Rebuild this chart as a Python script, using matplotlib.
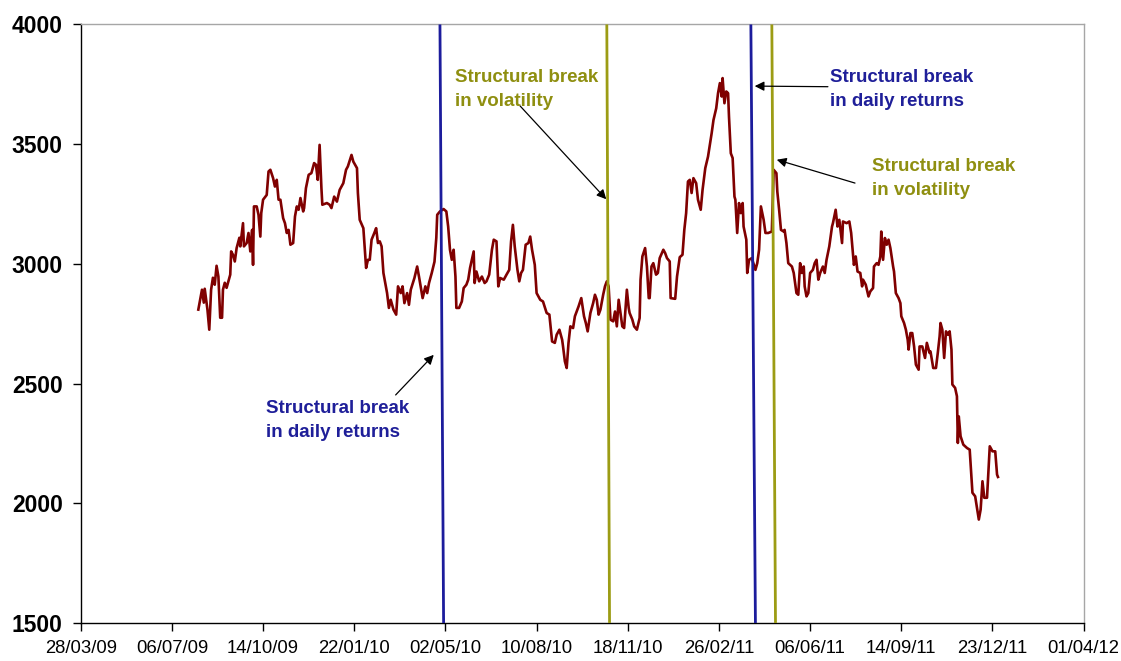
import matplotlib
matplotlib.use("Agg")
import matplotlib.pyplot as plt
import matplotlib.dates as mdates
import pandas as pd

# Index level, sampled through the period (days elapsed since 28 Mar 2009)
start_date = "2009-03-28"
days_from_start = [
    129, 133, 135, 136, 139, 141, 143, 145, 147, 149, 151, 153, 155, 156, 158, 160, 164, 165, 167, 169,
    171, 174, 175, 178, 179, 182, 184, 186, 188, 189, 190, 193, 195, 197, 198, 200, 204, 206, 208, 211,
    213, 215, 217, 219, 222, 224, 226, 228, 230, 233, 235, 237, 239, 241, 244, 245, 247, 250, 253, 256,
    258, 260, 262, 264, 265, 270, 273, 275, 278, 281, 284, 288, 291, 293, 297, 299, 303, 304, 306, 310,
    313, 315, 317, 319, 322, 324, 326, 328, 330, 332, 336, 338, 340, 343, 346, 348, 351, 353, 355, 358,
    360, 362, 366, 369, 371, 375, 378, 380, 382, 385, 388, 390, 391, 394, 398, 401, 403, 405, 407, 409,
    411, 412, 415, 418, 420, 423, 425, 427, 431, 432, 434, 437, 440, 443, 445, 448, 451, 453, 456, 458,
    460, 464, 467, 470, 472, 474, 476, 479, 481, 483, 485, 488, 491, 493, 495, 498, 500, 504, 507, 511,
    514, 517, 520, 522, 525, 528, 529, 531, 533, 535, 537, 540, 542, 546, 549, 552, 554, 556, 559, 562,
    564, 566, 568, 570, 573, 575, 577, 579, 581, 584, 586, 588, 590, 592, 594, 596, 599, 601, 602, 605,
    607, 610, 613, 614, 616, 619, 621, 623, 624, 626, 628, 631, 633, 635, 639, 641, 643, 646, 647, 652,
    654, 657, 660, 662, 664, 666, 668, 670, 672, 675, 677, 680, 682, 685, 688, 692, 694, 697, 699, 701,
    703, 704, 706, 708, 710, 711, 713, 715, 717, 718, 720, 722, 724, 726, 727, 730, 731, 733, 736, 740,
    742, 744, 746, 749, 751, 754, 758, 760, 763, 764, 766, 768, 771, 772, 774, 776, 780, 782, 785, 787,
    789, 791, 793, 794, 796, 798, 800, 803, 805, 807, 809, 811, 814, 816, 818, 821, 824, 825, 828, 830,
    832, 835, 836, 840, 843, 845, 847, 848, 850, 852, 855, 857, 858, 861, 864, 866, 869, 870, 873, 875,
    877, 878, 880, 882, 884, 886, 888, 891, 892, 894, 897, 899, 900, 903, 905, 907, 908, 910, 912, 914,
    916, 919, 920, 923, 926, 928, 931, 932, 935, 938, 940, 942, 943, 945, 947, 949, 951, 953, 955, 956,
    959, 961, 962, 963, 965, 968, 972, 975, 976, 978, 981, 983, 985, 987, 989, 991, 994, 995, 997, 1000,
    1003, 1005, 1006,
]
index_level = [
    2809, 2892, 2838, 2896, 2809, 2725, 2892, 2942, 2913, 2992, 2947, 2775, 2775, 2892, 2921, 2900, 2955, 3052, 3038, 3010,
    3066, 3109, 3073, 3170, 3073, 3087, 3129, 3052, 3142, 2996, 3240, 3240, 3205, 3114, 3212, 3268, 3288, 3386, 3393, 3358,
    3323, 3351, 3268, 3268, 3191, 3170, 3129, 3142, 3080, 3087, 3198, 3240, 3226, 3275, 3219, 3233, 3316, 3372, 3379, 3421,
    3414, 3351, 3497, 3316, 3247, 3254, 3247, 3233, 3281, 3260, 3309, 3337, 3393, 3407, 3455, 3427, 3400, 3296, 3184, 3149,
    2983, 3017, 3017, 3101, 3129, 3149, 3087, 3094, 3073, 2962, 2878, 2816, 2850, 2809, 2788, 2906, 2878, 2906, 2836, 2878,
    2829, 2892, 2941, 2989, 2947, 2857, 2906, 2878, 2920, 2962, 3009, 3109, 3205, 3219, 3229, 3219, 3156, 3059, 3017, 3059,
    2947, 2816, 2816, 2843, 2899, 2913, 2934, 2983, 3052, 2920, 2968, 2927, 2947, 2920, 2927, 2955, 3059, 3101, 3094, 2906,
    2941, 2934, 2955, 2975, 3094, 3163, 3073, 2975, 2927, 2962, 2975, 3080, 3087, 3114, 3059, 2996, 2878, 2850, 2843, 2795,
    2788, 2676, 2670, 2704, 2725, 2683, 2655, 2593, 2565, 2670, 2739, 2732, 2781, 2822, 2857, 2781, 2753, 2718, 2795, 2836,
    2871, 2850, 2788, 2809, 2871, 2906, 2927, 2906, 2767, 2760, 2801, 2739, 2850, 2795, 2739, 2732, 2892, 2816, 2795, 2767,
    2739, 2725, 2774, 2934, 3031, 3066, 2989, 2857, 2857, 2989, 3003, 2955, 2962, 3024, 3059, 3045, 3024, 3010, 2857, 2854,
    2947, 3028, 3038, 3142, 3212, 3344, 3351, 3296, 3358, 3337, 3268, 3226, 3309, 3400, 3448, 3546, 3601, 3650, 3713, 3755,
    3699, 3776, 3671, 3720, 3713, 3615, 3462, 3442, 3281, 3268, 3129, 3254, 3212, 3254, 3156, 3101, 2962, 3017, 3024, 2975,
    3003, 3059, 3240, 3184, 3129, 3129, 3135, 3393, 3379, 3302, 3226, 3142, 3135, 3142, 3087, 3003, 2989, 2962, 2878, 2871,
    3003, 2962, 2989, 2906, 2864, 2878, 2962, 2975, 3003, 3017, 2934, 2962, 2989, 2962, 3017, 3073, 3156, 3170, 3226, 3156,
    3184, 3087, 3177, 3170, 3177, 3129, 3038, 2996, 3031, 2968, 2962, 2906, 2934, 2913, 2864, 2885, 2899, 2989, 3003, 2996,
    3031, 3135, 3017, 3108, 3080, 3101, 3066, 2989, 2968, 2878, 2857, 2836, 2781, 2753, 2725, 2683, 2642, 2711, 2711, 2655,
    2579, 2558, 2655, 2655, 2607, 2670, 2628, 2634, 2565, 2565, 2628, 2697, 2753, 2725, 2607, 2718, 2704, 2718, 2642, 2496,
    2482, 2447, 2252, 2363, 2280, 2245, 2231, 2224, 2162, 2044, 2029, 1981, 1932, 1974, 2092, 2023, 2023, 2092, 2238, 2217,
    2217, 2120, 2110,
]

# Structural break markers (drawn lines lean slightly: top date, bottom date)
breaks = [
    ("2010-04-26", "2010-04-30", "returns"),
    ("2010-10-26", "2010-10-29", "volatility"),
    ("2011-04-02", "2011-04-07", "returns"),
    ("2011-04-25", "2011-04-29", "volatility"),
]
break_colors = {"returns": "#1C1C9C", "volatility": "#9C9C14"}
text_colors = {"returns": "#1F1F99", "volatility": "#8F8F10"}

y_ticks = [1500, 2000, 2500, 3000, 3500, 4000]
x_start, x_end = "2009-03-28", "2012-04-01"
tick_step_days = 100

dates = pd.Timestamp(start_date) + pd.to_timedelta(days_from_start, unit="D")

fig = plt.figure(figsize=(11.21, 6.61), dpi=100)
ax = fig.add_axes([0.072, 0.0575, 0.8947, 0.9055])

ax.plot(dates, index_level, color="#800000", lw=1.9, zorder=2)

for top, bottom, kind in breaks:
    ax.plot([pd.Timestamp(top), pd.Timestamp(bottom)], [y_ticks[-1], y_ticks[0]],
            color=break_colors[kind], lw=2.0, zorder=3, solid_capstyle="butt")

ax.set_xlim(pd.Timestamp(x_start), pd.Timestamp(x_end))
ax.set_ylim(y_ticks[0], y_ticks[-1])
ax.set_yticks(y_ticks)
ax.set_xticks(pd.date_range(x_start, x_end, freq=f"{tick_step_days}D"))
ax.xaxis.set_major_formatter(mdates.DateFormatter("%d/%m/%y"))

for lab in ax.get_yticklabels():
    lab.set_fontfamily("Liberation Sans")
    lab.set_fontweight("bold")
    lab.set_fontsize(16.5)
for lab in ax.get_xticklabels():
    lab.set_fontfamily("Liberation Sans")
    lab.set_fontsize(13.3)

ax.tick_params(axis="y", direction="out", length=6, width=1, pad=7, color="black")
ax.tick_params(axis="x", direction="out", length=5.5, width=1, pad=7, color="black")

for side in ("left", "bottom"):
    ax.spines[side].set_color("black")
    ax.spines[side].set_linewidth(1.0)
for side in ("top", "right"):
    ax.spines[side].set_color("#A6A6A6")
    ax.spines[side].set_linewidth(1.0)

label_kw = dict(transform=ax.transAxes, fontfamily="Liberation Sans", fontweight="bold",
                fontsize=13.5, linespacing=1.55, ha="left", va="center", zorder=5)
arrow_kw = dict(arrowstyle="-|>", color="black", lw=0.9, mutation_scale=14, shrinkA=0, shrinkB=0)

notes = [
    ("Structural break\nin volatility", "volatility", (0.373, 0.892), (0.438, 0.864), (0.524, 0.708)),
    ("Structural break\nin daily returns", "returns", (0.747, 0.892), (0.745, 0.896), (0.672, 0.897)),
    ("Structural break\nin volatility", "volatility", (0.789, 0.742), (0.772, 0.735), (0.694, 0.774)),
    ("Structural break\nin daily returns", "returns", (0.185, 0.339), (0.314, 0.381), (0.352, 0.448)),
]
for text, kind, text_pos, tail, head in notes:
    ax.text(*text_pos, text, color=text_colors[kind], **label_kw)
    ax.annotate("", xy=head, xytext=tail, xycoords="axes fraction",
                textcoords="axes fraction", arrowprops=arrow_kw, zorder=4)

fig.savefig("out.png", dpi=100, facecolor="white")
